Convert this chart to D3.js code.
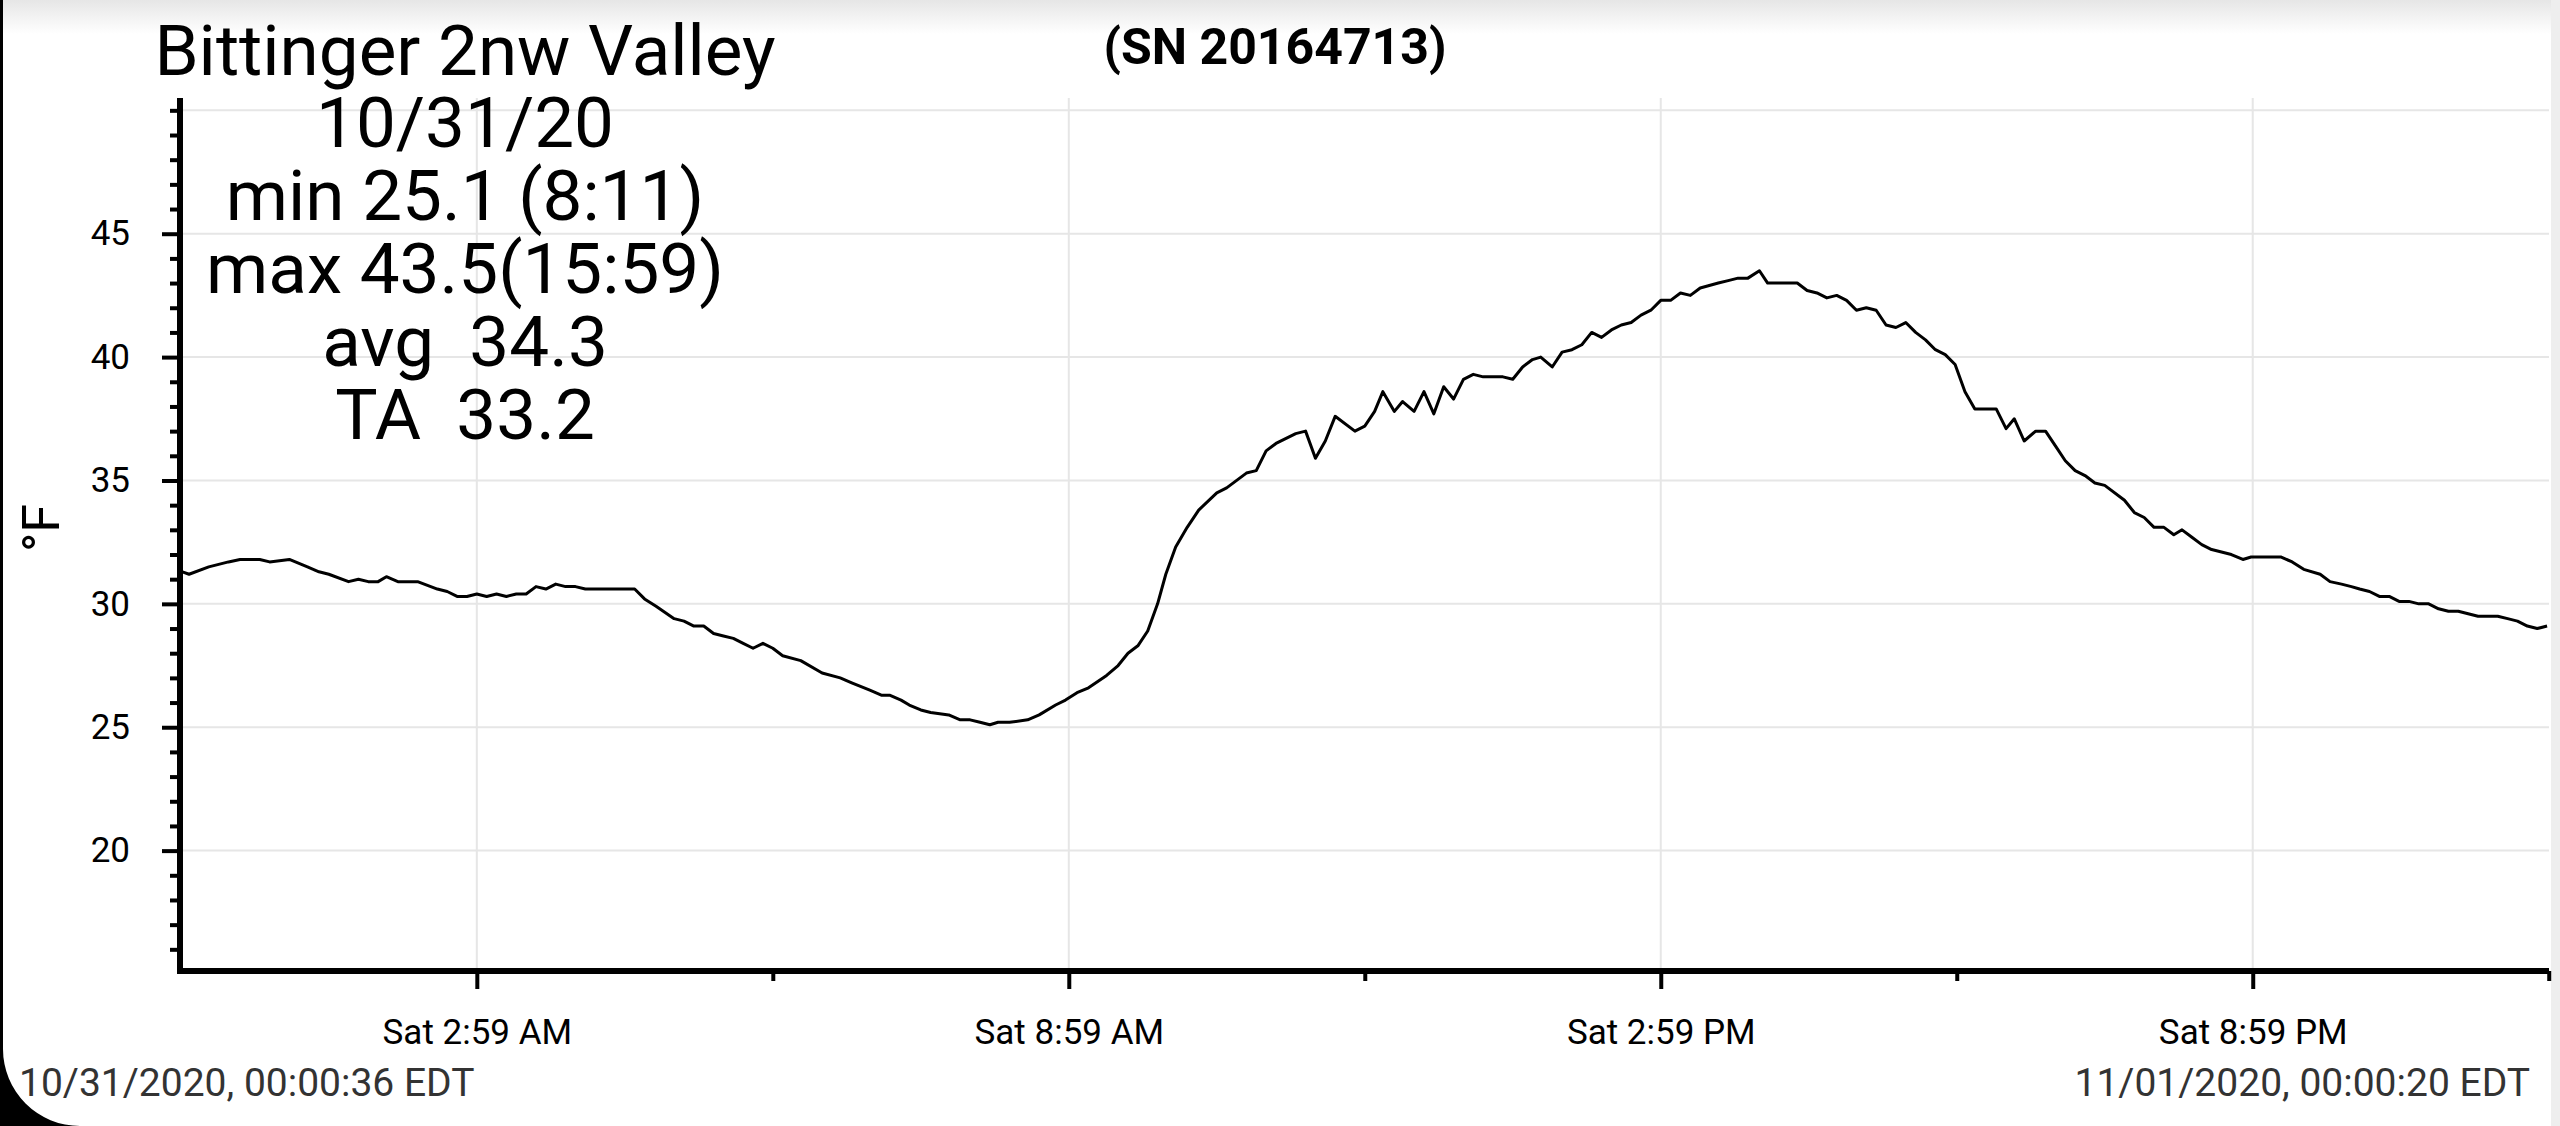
<!DOCTYPE html>
<html>
<head>
<meta charset="utf-8">
<script src="https://cdn.jsdelivr.net/npm/d3@7"></script>
<style>
  html, body { margin: 0; padding: 0; background: #fff; }
  svg { display: block; font-family: Roboto, "Noto Sans", sans-serif; }
  .pre { white-space: pre; }
</style>
</head>
<body>
<div id="chart"></div>
<script>
// readings for 10/31/2020, time of day and temperature (°F)
var sampleTimes = ["00:00","00:04","00:16","00:28","00:35","00:47","00:53","01:05","01:16","01:23",
  "01:29","01:41","01:47","01:53","01:59","02:04","02:11","02:23","02:35","02:41",
  "02:47","02:53","02:59","03:05","03:11","03:17","03:23","03:29","03:35","03:41",
  "03:47","03:53","03:59","04:05","04:35","04:41","04:48","04:59","05:05","05:11",
  "05:17","05:23","05:29","05:35","05:41","05:47","05:53","05:59","06:05","06:16",
  "06:29","06:40","06:47","06:58","07:05","07:10","07:17","07:22","07:29","07:35",
  "07:46","07:53","07:59","08:05","08:11","08:16","08:23","08:34","08:41","08:51",
  "08:57","09:04","09:11","09:22","09:29","09:35","09:41","09:47","09:53","09:58",
  "10:04","10:11","10:18","10:29","10:35","10:47","10:53","10:59","11:05","11:17",
  "11:23","11:29","11:35","11:41","11:53","11:59","12:05","12:10","12:17","12:22",
  "12:29","12:35","12:41","12:47","12:53","12:59","13:05","13:11","13:17","13:23",
  "13:29","13:35","13:41","13:46","13:53","13:59","14:05","14:11","14:17","14:23",
  "14:29","14:35","14:41","14:47","14:53","14:59","15:05","15:11","15:17","15:23",
  "15:34","15:40","15:46","15:52","15:59","16:04","16:10","16:16","16:22","16:28",
  "16:34","16:40","16:46","16:52","16:58","17:04","17:10","17:16","17:22","17:28",
  "17:34","17:40","17:46","17:52","17:58","18:04","18:10","18:23","18:29","18:34",
  "18:40","18:47","18:53","18:59","19:05","19:11","19:17","19:23","19:29","19:41",
  "19:47","19:53","19:59","20:05","20:11","20:16","20:22","20:28","20:34","20:40",
  "20:46","20:53","20:58","21:16","21:23","21:30","21:40","21:46","21:53","21:59",
  "22:04","22:10","22:16","22:22","22:28","22:34","22:40","22:46","22:52","22:58",
  "23:04","23:10","23:16","23:28","23:34","23:40","23:46","23:52","23:58"];

var tempsF = [31.3,31.2,31.5,31.7,31.8,31.8,31.7,31.8,31.5,31.3,
  31.2,30.9,31.0,30.9,30.9,31.1,30.9,30.9,30.6,30.5,
  30.3,30.3,30.4,30.3,30.4,30.3,30.4,30.4,30.7,30.6,
  30.8,30.7,30.7,30.6,30.6,30.2,29.9,29.4,29.3,29.1,
  29.1,28.8,28.7,28.6,28.4,28.2,28.4,28.2,27.9,27.7,
  27.2,27.0,26.8,26.5,26.3,26.3,26.1,25.9,25.7,25.6,
  25.5,25.3,25.3,25.2,25.1,25.2,25.2,25.3,25.5,25.9,
  26.1,26.4,26.6,27.1,27.5,28.0,28.3,28.9,30.0,31.2,
  32.3,33.1,33.8,34.5,34.7,35.3,35.4,36.2,36.5,36.9,
  37.0,35.9,36.6,37.6,37.0,37.2,37.8,38.6,37.8,38.2,
  37.8,38.6,37.7,38.8,38.3,39.1,39.3,39.2,39.2,39.2,
  39.1,39.6,39.9,40.0,39.6,40.2,40.3,40.5,41.0,40.8,
  41.1,41.3,41.4,41.7,41.9,42.3,42.3,42.6,42.5,42.8,
  43.0,43.1,43.2,43.2,43.5,43.0,43.0,43.0,43.0,42.7,
  42.6,42.4,42.5,42.3,41.9,42.0,41.9,41.3,41.2,41.4,
  41.0,40.7,40.3,40.1,39.7,38.6,37.9,37.9,37.1,37.5,
  36.6,37.0,37.0,36.4,35.8,35.4,35.2,34.9,34.8,34.2,
  33.7,33.5,33.1,33.1,32.8,33.0,32.7,32.4,32.2,32.1,
  32.0,31.8,31.9,31.9,31.7,31.4,31.2,30.9,30.8,30.7,
  30.6,30.5,30.3,30.3,30.1,30.1,30.0,30.0,29.8,29.7,
  29.7,29.6,29.5,29.5,29.4,29.3,29.1,29.0,29.1];

var yMajorTicks = [20, 25, 30, 35, 40, 45];
var yMinorTicks = [16,17,18,19,21,22,23,24,26,27,28,29,31,32,33,34,36,37,38,39,41,42,43,44,46,47,48,49,50];
var yGridValues = [20, 25, 30, 35, 40, 45, 50];
var xMajorTicks = ["2020-10-31 02:59", "2020-10-31 08:59", "2020-10-31 14:59", "2020-10-31 20:59"];
var xMinorTicks = ["2020-10-31 05:59", "2020-10-31 11:59", "2020-10-31 17:59", "2020-10-31 23:59"];

var stationName = "Bittinger 2nw Valley";
var serialText = "(SN 20164713)";
var statLines = ["10/31/20", "min 25.1 (8:11)", "max 43.5(15:59)", "avg  34.3", "TA  33.2"];
var startStamp = "10/31/2020, 00:00:36 EDT";
var endStamp = "11/01/2020, 00:00:20 EDT";
var unitLabel = "°F";

var W = 2560, H = 1126;
var plot = {left: 180, right: 2549, top: 98, bottom: 971};

var parseT = d3.timeParse("%Y-%m-%d %H:%M");
var parseS = d3.timeParse("%Y-%m-%d %H:%M:%S");

var data = sampleTimes.map(function(t, i){
  return {t: parseT("2020-10-31 " + t), v: tempsF[i]};
});

var x = d3.scaleTime()
  .domain([parseS("2020-10-30 23:58:30"), parseS("2020-10-31 23:59:10")])
  .range([plot.left, plot.right]);

var y = d3.scaleLinear()
  .domain([15, 50.5])
  .range([974, plot.top]);

var svg = d3.select("#chart").append("svg")
  .attr("width", W).attr("height", H)
  .attr("viewBox", "0 0 " + W + " " + H);

// phone screenshot frame bits
var defs = svg.append("defs");
var grad = defs.append("linearGradient").attr("id", "topfade")
  .attr("x1", 0).attr("y1", 0).attr("x2", 0).attr("y2", 1);
grad.append("stop").attr("offset", "0%").attr("stop-color", "#e6e6e6");
grad.append("stop").attr("offset", "100%").attr("stop-color", "#ffffff");

svg.append("rect").attr("width", W).attr("height", H).attr("fill", "#fff");
svg.append("rect").attr("x", 0).attr("y", 0).attr("width", W).attr("height", 34).attr("fill", "url(#topfade)");
svg.append("rect").attr("x", 2551).attr("y", 0).attr("width", W - 2551).attr("height", H).attr("fill", "#eeeeee");

// grid
var grid = svg.append("g").attr("stroke", "#e6e6e6").attr("stroke-width", 2);
grid.selectAll("line.h").data(yGridValues).enter().append("line")
  .attr("class", "h")
  .attr("x1", plot.left).attr("x2", plot.right)
  .attr("y1", function(d){ return y(d); }).attr("y2", function(d){ return y(d); });
grid.selectAll("line.v").data(xMajorTicks.map(parseT)).enter().append("line")
  .attr("class", "v")
  .attr("y1", plot.top).attr("y2", plot.bottom)
  .attr("x1", function(d){ return x(d); }).attr("x2", function(d){ return x(d); });

// temperature line
var line = d3.line()
  .x(function(d){ return x(d.t); })
  .y(function(d){ return y(d.v); });

svg.append("path")
  .datum(data)
  .attr("fill", "none")
  .attr("stroke", "#000")
  .attr("stroke-width", 3)
  .attr("stroke-linejoin", "round")
  .attr("d", line);

// axes
var yAxisMajor = d3.axisLeft(y).tickValues(yMajorTicks).tickSize(18).tickSizeOuter(0).tickPadding(32);
var yAxisMinor = d3.axisLeft(y).tickValues(yMinorTicks).tickSize(10).tickSizeOuter(0).tickFormat("");
var xAxisMajor = d3.axisBottom(x).tickValues(xMajorTicks.map(parseT)).tickSize(18).tickSizeOuter(0)
  .tickPadding(30).tickFormat(d3.timeFormat("%a %-I:%M %p"));
var xAxisMinor = d3.axisBottom(x).tickValues(xMinorTicks.map(parseT)).tickSize(10).tickSizeOuter(0).tickFormat("");

function styleAxis(g){
  g.select(".domain").remove();
  g.selectAll(".tick line").attr("stroke", "#000").attr("stroke-width", 4);
  g.selectAll(".tick text").attr("fill", "#000").style("font-size", "35px").style("font-family", "Roboto");
}

svg.append("g").attr("transform", "translate(" + plot.left + ",0)").call(yAxisMinor).call(styleAxis);
svg.append("g").attr("transform", "translate(" + plot.left + ",0)").call(yAxisMajor).call(styleAxis);
svg.append("g").attr("transform", "translate(0," + plot.bottom + ")").call(xAxisMinor).call(styleAxis);
svg.append("g").attr("transform", "translate(0," + plot.bottom + ")").call(xAxisMajor).call(styleAxis);

svg.append("line").attr("x1", plot.left).attr("x2", plot.left)
  .attr("y1", plot.top).attr("y2", 974)
  .attr("stroke", "#000").attr("stroke-width", 6);
svg.append("line").attr("x1", 177).attr("x2", plot.right)
  .attr("y1", plot.bottom).attr("y2", plot.bottom)
  .attr("stroke", "#000").attr("stroke-width", 6);

// y unit label
svg.append("text")
  .attr("transform", "translate(59,528) rotate(-90)")
  .attr("text-anchor", "middle")
  .style("font-size", "52px")
  .attr("fill", "#000")
  .text(unitLabel);

// title block
svg.append("text")
  .attr("x", 465).attr("y", 75)
  .attr("text-anchor", "middle")
  .style("font-size", "71px")
  .attr("fill", "#000")
  .text(stationName);

svg.append("g").selectAll("text").data(statLines).enter().append("text")
  .attr("class", "pre")
  .attr("x", 465)
  .attr("y", function(d, i){ return 147 + i * 73; })
  .attr("text-anchor", "middle")
  .style("font-size", "71px")
  .attr("fill", "#000")
  .text(function(d){ return d; });

svg.append("text")
  .attr("x", 1275).attr("y", 64)
  .attr("text-anchor", "middle")
  .style("font-size", "50px")
  .style("font-weight", "bold")
  .attr("fill", "#000")
  .text(serialText);

// time stamps at the bottom
svg.append("text")
  .attr("x", 19).attr("y", 1096)
  .style("font-size", "39px")
  .attr("fill", "#333")
  .text(startStamp);
svg.append("text")
  .attr("x", 2530).attr("y", 1096)
  .attr("text-anchor", "end")
  .style("font-size", "39px")
  .attr("fill", "#333")
  .text(endStamp);

// left edge of the device frame with its rounded corner
svg.append("rect").attr("x", 0).attr("y", 0).attr("width", 3).attr("height", H).attr("fill", "#000");
svg.append("path")
  .attr("d", "M0,1049 V" + H + " H80 A77,77 0 0 1 3,1049 Z")
  .attr("fill", "#000");
</script>
</body>
</html>
